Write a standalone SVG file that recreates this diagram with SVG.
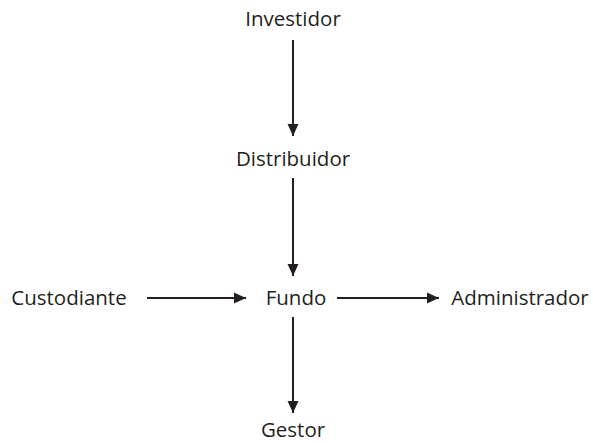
<svg xmlns="http://www.w3.org/2000/svg" width="593" height="443" viewBox="0 0 593 443">
<style>
text{font-family:"Open Sans","Noto Sans",sans-serif;font-size:20.5px;fill:#231f20;}
.c{stroke:#231f20;stroke-width:2;fill:none;}
</style>
<defs>
<marker id="ah" viewBox="0 0 12 12" refX="12" refY="6" markerWidth="12" markerHeight="12" markerUnits="userSpaceOnUse" orient="auto">
<path d="M0,0.5 L12,6 L0,11.5 Z" fill="#231f20"/>
</marker>
</defs>
<rect width="593" height="443" fill="#fff"/>
<g id="connectors">
<line class="c" x1="293" y1="40" x2="293" y2="136" marker-end="url(#ah)"/>
<line class="c" x1="293" y1="178" x2="293" y2="276" marker-end="url(#ah)"/>
<line class="c" x1="147" y1="298" x2="246" y2="298" marker-end="url(#ah)"/>
<line class="c" x1="337" y1="298" x2="439" y2="298" marker-end="url(#ah)"/>
<line class="c" x1="293" y1="317" x2="293" y2="413" marker-end="url(#ah)"/>
</g>
<g id="investidor"><text x="293" y="26" text-anchor="middle">Investidor</text></g>
<g id="distribuidor"><text x="293" y="166" text-anchor="middle">Distribuidor</text></g>
<g id="custodiante"><text x="69" y="305" text-anchor="middle">Custodiante</text></g>
<g id="fundo"><text x="296" y="305" text-anchor="middle">Fundo</text></g>
<g id="administrador"><text x="520" y="305" text-anchor="middle">Administrador</text></g>
<g id="gestor"><text x="293" y="437" text-anchor="middle">Gestor</text></g>
</svg>
